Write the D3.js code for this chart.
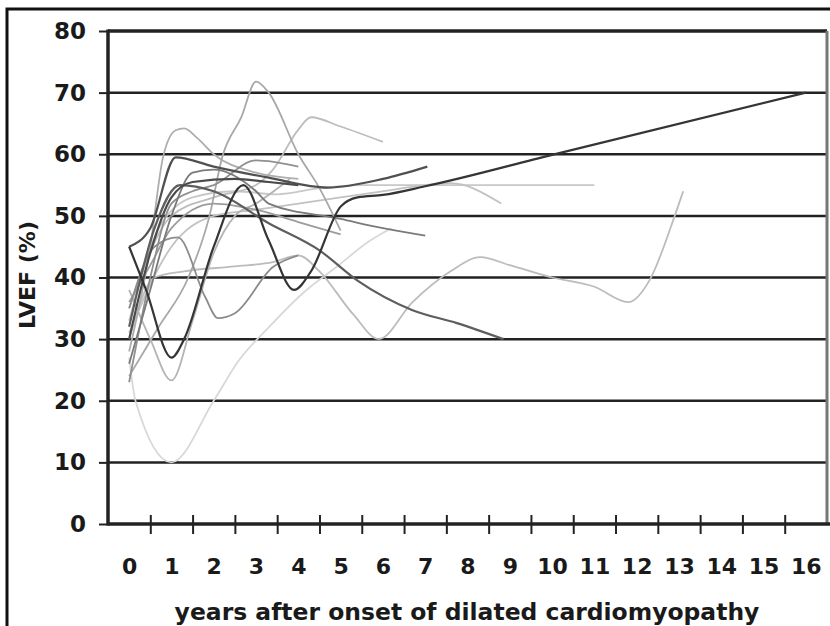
<!DOCTYPE html>
<html>
<head>
<meta charset="utf-8">
<script src="https://cdn.jsdelivr.net/npm/d3@7"></script>
<style>
  body { margin: 0; background: #fff; }
  svg { display: block; }
  .tick-label { font-family: "DejaVu Sans", sans-serif; font-weight: bold; fill: #1a1a1a; }
</style>
</head>
<body>
<div id="chart"></div>
<script>
// years after onset (x) and LVEF % (y) per patient
const yearLabels = d3.range(0, 17);
const lvefTicks = d3.range(0, 81, 10);

const patientA = [[0,45],[0.4,38],[1,27],[1.3,30],[2,45],[2.7,55],[3.3,46],[3.9,38],[4.3,41],[5,51.5],[5.4,53],[6,53.4],[7,54.8],[10,59.9],[16,70]];
const patientB = [[0,30],[0.5,44],[1,53],[1.5,55.5],[2.5,56],[3.3,55.5],[4,55]];
const patientC = [[0,45],[0.5,48],[1.1,59.5],[2,58],[3.3,56.2],[4.7,54.6],[6,56],[7.05,58]];
const patientD = [[0,28],[0.5,45],[0.8,59.5],[1.1,63.9],[1.3,64.2],[1.6,62.7],[2,60],[3,57],[4,56]];
const patientE = [[0,24],[0.7,32],[1.4,40],[1.9,50],[2.2,59.5],[2.65,66],[3,71.8],[3.3,70],[4,60],[4.5,54.5],[5,47.6]];
const patientF = [[0,30],[0.6,40],[1.3,41],[2.5,41.8],[3.4,42.5],[4,43.6],[4.5,41],[5.3,34],[5.9,30],[6.7,36],[7.6,41],[8.3,43.3],[9,42],[10,40],[11,38.5],[11.8,36],[12.3,39.5],[12.9,50],[13.1,54]];
const patientG = [[0,35],[0.6,45],[1.15,46.5],[1.8,36.8],[2.1,33.4],[2.5,34.2],[3.4,41.7],[4,43.6]];
const patientH = [[0,27],[0.15,20],[1,10],[2,20],[2.6,26.6],[3.3,31.9],[4.1,37.4],[4.9,41.7],[5.7,46],[6.2,48]];
const patientI = [[0,35],[1,50],[2,53],[3,55],[3.4,57.5],[4,64],[4.3,66],[5,64.5],[6,62]];
const patientJ = [[0,33],[0.7,48],[1.5,53],[2.5,54],[3.5,53.5],[4.5,54.5],[5.5,55],[7,55],[9,55],[11,55]];
const patientK = [[0,31],[1,45],[2,50],[3,51],[4,52],[5,53],[6,54],[7,55],[7.6,55.3],[8.8,52]];
const patientL = [[0,26],[0.5,38],[1,50],[1.5,57],[2,57.5],[3,54],[3.3,52],[5,49.5],[6,48],[7,46.8]];
const patientM = [[0,32],[0.6,48],[1.2,55],[2,54],[3.3,48.8],[4.5,44.4],[5.4,39.5],[6.7,34.7],[7.75,32.6],[8.85,30]];
const patientO = [[0,36],[0.5,42],[1,48],[2,52],[3,51],[4,49],[5,47]];
const patientP = [[0,38],[0.5,30],[1,23.3],[1.5,33],[2,44],[2.5,50],[3,52],[3.8,56]];
const patientQ = [[0,23],[0.5,40],[1,52],[1.5,54],[2,55],[3,59],[4,58]];

const patients = [patientH, patientF, patientJ, patientK, patientI, patientD, patientE, patientP,
                  patientO, patientQ, patientG, patientL, patientM, patientB, patientC, patientA];
const grays = ["#d8d8d8", "#bcbcbc", "#c8c8c8", "#c2c2c2", "#bdbdbd", "#adadad", "#a8a8a8", "#b4b4b4",
               "#9c9c9c", "#909090", "#8c8c8c", "#7a7a7a", "#5e5e5e", "#4a4a4a", "#505050", "#353535"];

const width = 830, height = 626;
const plot = { left: 108, right: 827, top: 31, bottom: 524 };

const svg = d3.select("#chart").append("svg")
    .attr("width", width)
    .attr("height", height);

svg.append("rect").attr("width", width).attr("height", height).attr("fill", "#fff");

// outer frame, runs off the right and bottom edges
svg.append("rect")
    .attr("x", 7).attr("y", 9)
    .attr("width", 900).attr("height", 800)
    .attr("fill", "none").attr("stroke", "#111").attr("stroke-width", 3);

const x = d3.scaleLinear().domain([-0.5, 16.5]).range([plot.left, plot.right]);
const y = d3.scaleLinear().domain([0, 80]).range([plot.bottom, plot.top]);

// horizontal grid
svg.append("g").selectAll("line").data(lvefTicks.filter(d => d > 0)).enter().append("line")
    .attr("x1", plot.left).attr("x2", plot.right)
    .attr("y1", d => y(d)).attr("y2", d => y(d))
    .attr("stroke", "#222")
    .attr("stroke-width", d => d === 80 ? 3.5 : 2.5);

// right border
svg.append("line")
    .attr("x1", plot.right).attr("x2", plot.right)
    .attr("y1", plot.top).attr("y2", plot.bottom)
    .attr("stroke", "#777").attr("stroke-width", 3);

// patient lines
const line = d3.line()
    .x(d => x(d[0]))
    .y(d => y(d[1]))
    .curve(d3.curveMonotoneX);

svg.append("g").selectAll("path").data(patients).enter().append("path")
    .attr("d", line)
    .attr("fill", "none")
    .attr("stroke", (d, i) => grays[i])
    .attr("stroke-width", (d, i) => i > 11 ? 2.2 : 1.8)
    .attr("stroke-linejoin", "round");

// y axis
const yAxis = svg.append("g")
    .attr("transform", `translate(${plot.left},0)`)
    .call(d3.axisLeft(y).tickValues(lvefTicks).tickSize(9).tickPadding(13));
yAxis.select(".domain").remove();
yAxis.selectAll(".tick line").attr("stroke", "#222").attr("stroke-width", 2);
yAxis.selectAll(".tick text").attr("class", "tick-label").style("font-size", "23px");
yAxis.append("line")
    .attr("x1", 0).attr("x2", 0)
    .attr("y1", plot.top - 1.5).attr("y2", plot.bottom + 1.5)
    .attr("stroke", "#222").attr("stroke-width", 3.5);

// x axis: ticks between years, labels centred on years
const xAxis = svg.append("g")
    .attr("transform", `translate(0,${plot.bottom})`)
    .call(d3.axisBottom(x).tickValues(d3.range(0.5, 16, 1)).tickSize(10).tickFormat(""));
xAxis.select(".domain").remove();
xAxis.selectAll(".tick line").attr("y1", -9).attr("y2", 10).attr("stroke", "#222").attr("stroke-width", 2);
xAxis.append("line")
    .attr("x1", plot.left).attr("x2", width)
    .attr("stroke", "#222").attr("stroke-width", 3.5);

const xLabels = svg.append("g")
    .attr("transform", `translate(0,${plot.bottom})`)
    .call(d3.axisBottom(x).tickValues(yearLabels).tickSize(0).tickPadding(34));
xLabels.select(".domain").remove();
xLabels.selectAll(".tick text").attr("class", "tick-label").style("font-size", "22px");

// axis titles
const xTitle = svg.append("text")
    .attr("class", "tick-label")
    .attr("x", 467).attr("y", 620)
    .attr("text-anchor", "middle")
    .style("font-size", "24px")
    .text("years after onset of dilated cardiomyopathy");
const xLen = xTitle.node().getComputedTextLength();
xTitle.style("font-size", (24 * 585 / xLen) + "px");

svg.append("text")
    .attr("class", "tick-label")
    .attr("transform", "translate(35,275) rotate(-90)")
    .attr("text-anchor", "middle")
    .style("font-size", "22px")
    .text("LVEF (%)");
</script>
</body>
</html>
